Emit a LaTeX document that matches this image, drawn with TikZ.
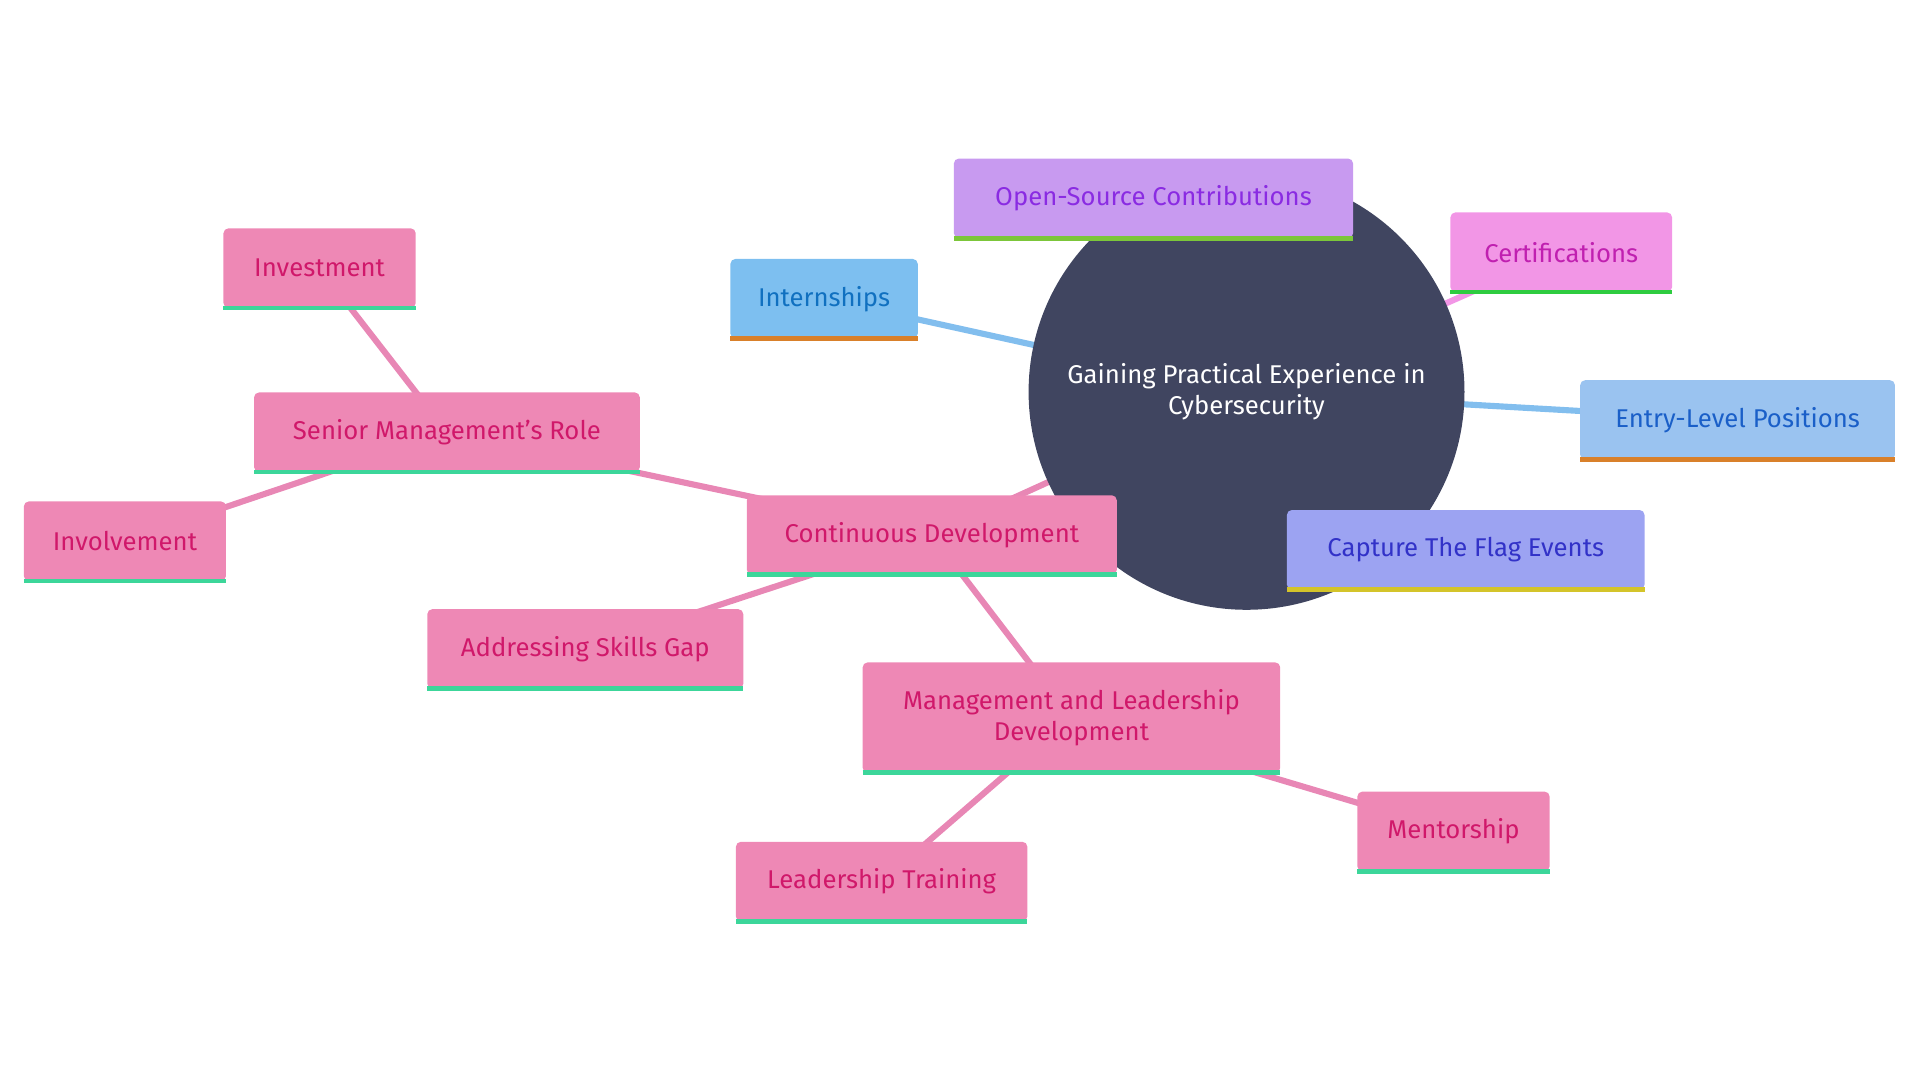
\documentclass[tikz,border=0pt]{standalone}
\usepackage{fontspec}
\setmainfont{Fira Sans}
\usetikzlibrary{backgrounds}
\definecolor{hub}{HTML}{404560}
\definecolor{pinkfill}{HTML}{EE88B5}
\definecolor{pinktext}{HTML}{D0186A}
\definecolor{pinkline}{HTML}{3CD69A}
\definecolor{pinkedge}{HTML}{E887B5}
\definecolor{blueedge}{HTML}{82BEEE}
\definecolor{ossfill}{HTML}{C89AF0}
\definecolor{osstext}{HTML}{8A2BE2}
\definecolor{ossline}{HTML}{7CC63A}
\definecolor{certfill}{HTML}{F296E6}
\definecolor{certtext}{HTML}{C020B0}
\definecolor{certline}{HTML}{2ECC40}
\definecolor{internfill}{HTML}{7DBFF0}
\definecolor{interntext}{HTML}{1070C0}
\definecolor{orangeline}{HTML}{D9802A}
\definecolor{entryfill}{HTML}{9AC3F0}
\definecolor{entrytext}{HTML}{1A5FC8}
\definecolor{ctffill}{HTML}{9CA3F2}
\definecolor{ctftext}{HTML}{3232C8}
\definecolor{ctfline}{HTML}{D4C42A}
\tikzset{every path/.style={line width=5pt}}
\tikzset{box/.style={rectangle, rounded corners=4pt, inner sep=0pt, font=\fontsize{21}{25}\selectfont, align=center, line width=0pt}}
\tikzset{pinkbox/.style={box, fill=pinkfill, text=pinktext}}
\tikzset{base/.style={line width=4pt, line cap=butt}}

\begin{document}
\begin{tikzpicture}[x=1pt,y=-1pt]
\useasboundingbox (0,0) rectangle (1568,882);

\node[circle, fill=hub, minimum size=356pt, text=white, align=center, font=\fontsize{21}{25}\selectfont] (hub) at (1018,320) {Gaining Practical Experience in\\Cybersecurity};

\node[box, fill=ossfill, text=osstext, minimum width=326pt, minimum height=65pt] (oss) at (942,162) {Open-Source Contributions};
\node[box, fill=certfill, text=certtext, minimum width=181pt, minimum height=65pt] (cert) at (1275,206) {Certifications};
\node[box, fill=internfill, text=interntext, minimum width=153pt, minimum height=65pt] (intern) at (673,244) {Internships};
\node[box, fill=entryfill, text=entrytext, minimum width=257pt, minimum height=65pt] (entry) at (1419,343) {Entry-Level Positions};
\node[box, fill=ctffill, text=ctftext, minimum width=292pt, minimum height=65pt] (ctf) at (1197,449) {Capture The Flag Events};

\node[pinkbox, minimum width=302pt, minimum height=65pt] (cont) at (761,437) {Continuous Development};
\node[pinkbox, minimum width=315pt, minimum height=65pt] (senior) at (365,353) {Senior Management's Role};
\node[pinkbox, minimum width=157pt, minimum height=65pt] (invest) at (261,219) {Investment};
\node[pinkbox, minimum width=165pt, minimum height=65pt] (involve) at (102,442) {Involvement};
\node[pinkbox, minimum width=258pt, minimum height=65pt] (skills) at (478,530) {Addressing Skills Gap};
\node[pinkbox, minimum width=341pt, minimum height=90pt] (mgmt) at (875,586) {Management and Leadership\\Development};
\node[pinkbox, minimum width=157pt, minimum height=65pt] (mentor) at (1187,679) {Mentorship};
\node[pinkbox, minimum width=238pt, minimum height=65pt] (lead) at (720,720) {Leadership Training};

% coloured bottom edges
\draw[base, ossline] (oss.south west) -- (oss.south east);
\draw[base, certline] (cert.south west) -- (cert.south east);
\draw[base, orangeline] (intern.south west) -- (intern.south east);
\draw[base, orangeline] (entry.south west) -- (entry.south east);
\draw[base, ctfline] (ctf.south west) -- (ctf.south east);
\foreach \n in {cont,senior,invest,involve,skills,mgmt,mentor,lead}
  \draw[base, pinkline] (\n.south west) -- (\n.south east);

% connectors behind everything
\begin{scope}[on background layer]
\draw[blueedge] (hub.center) -- (intern.center);
\draw[blueedge] (hub.center) -- (entry.center);
\draw[blueedge] (hub.center) -- (ctf.center);
\draw[ossfill] (hub.center) -- (oss.center);
\draw[certfill] (hub.center) -- (cert.center);
\draw[pinkedge] (hub.center) -- (cont.center);
\draw[pinkedge] (cont.center) -- (senior.center);
\draw[pinkedge] (senior.center) -- (invest.center);
\draw[pinkedge] (senior.center) -- (involve.center);
\draw[pinkedge] (cont.center) -- (skills.center);
\draw[pinkedge] (cont.center) -- (mgmt.center);
\draw[pinkedge] (mgmt.center) -- (mentor.center);
\draw[pinkedge] (mgmt.center) -- (lead.center);
\end{scope}
\end{tikzpicture}
\end{document}
